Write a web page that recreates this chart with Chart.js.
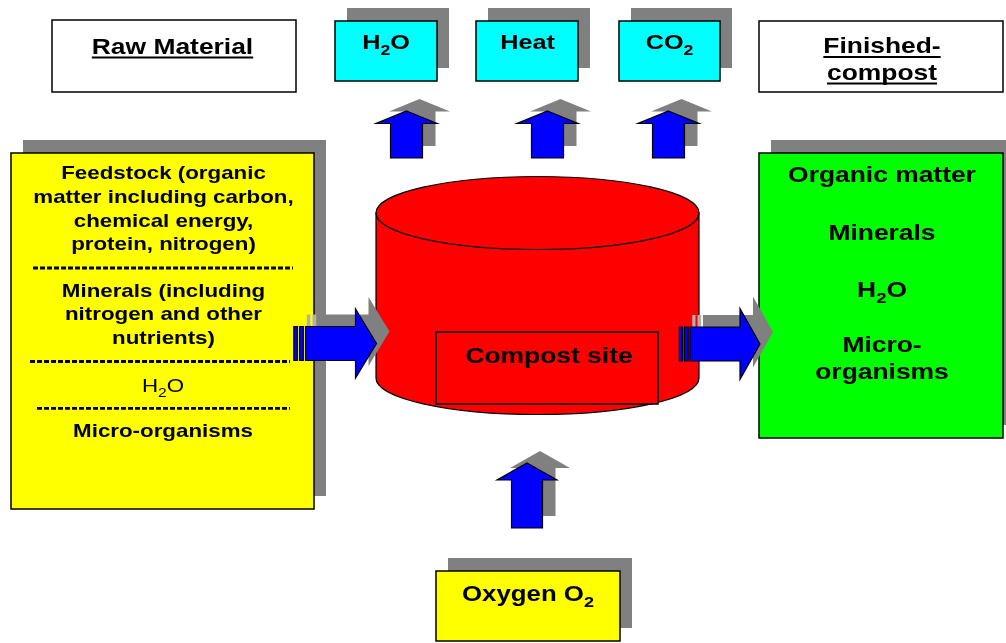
<!DOCTYPE html>
<html><head><meta charset="utf-8">
<script src="https://cdn.jsdelivr.net/npm/chart.js@4.4.1/dist/chart.umd.min.js"></script>
<style>html,body{margin:0;padding:0;background:#fff;overflow:hidden}canvas{display:block}</style>
</head><body>
<canvas id="c" width="1006" height="643"></canvas>
<script>
// ---- text content (the "data" of this diagram) ----
const headerLabels = ["Raw Material"];
const finishedLabels = ["Finished-", "compost"];
const outputLabels = ["H_2O", "Heat", "CO_2"];
const feedstockLines = ["Feedstock (organic", "matter including carbon,", "chemical energy,", "protein, nitrogen)"];
const mineralLines = ["Minerals (including", "nitrogen and other", "nutrients)"];
const waterLine = ["H_2O"];
const microLine = ["Micro-organisms"];
const productLines = ["Organic matter", "Minerals", "H_2O", "Micro-", "organisms"];
const siteLabel = ["Compost site"];
const oxygenLabel = ["Oxygen O_2"];

// ---- layout geometry (diagram coordinates, mapped through the chart scales) ----
const L = {
  rawBox: [52, 20, 296, 92],
  finBox: [759, 21, 1003, 92],
  outBoxes: [[335, 21, 437, 81], [476, 21, 578, 81], [619, 21, 720, 81]],
  outText: [[386, 49], [527.5, 49], [669.5, 49]],
  upArrows: [406.5, 547.5, 668.5],
  yellowBox: [11, 153, 314, 509],
  greenBox: [759, 153, 1003, 438],
  oxyBox: [436, 571, 620, 641],
  cyl: {cx: 537.5, rx: 161.5, top: 213, bottom: 378, ry: 36.5},
  siteBox: [436, 332, 658, 404]
};
const FONT = '"Liberation Sans", Arial, Helvetica, sans-serif';
const STRETCH = 1.2;

function parse(str){
  const out=[]; let cur=''; let i=0;
  while(i<str.length){
    if(str[i]==='_'){ if(cur) out.push({t:cur,sub:false}); cur=''; out.push({t:str[i+1],sub:true}); i+=2; }
    else { cur+=str[i]; i++; }
  }
  if(cur) out.push({t:cur,sub:false});
  return out;
}
function rich(ctx, str, cx, base, size, weight, underline){
  const parts = parse(str);
  const sub = size*0.7;
  let w=0;
  parts.forEach(p=>{ctx.font=`${weight} ${p.sub?sub:size}px ${FONT}`; p.w=ctx.measureText(p.t).width; w+=p.w;});
  ctx.save();
  ctx.translate(cx, base); ctx.scale(STRETCH,1);
  ctx.fillStyle='#000'; ctx.textAlign='left'; ctx.textBaseline='alphabetic';
  let x=-w/2;
  parts.forEach(p=>{ctx.font=`${weight} ${p.sub?sub:size}px ${FONT}`; ctx.fillText(p.t, x, p.sub?size*0.27:0); x+=p.w;});
  if(underline){ ctx.fillRect(-w/2, 3, w, 2); }
  ctx.restore();
}

const diagram = {
  id: 'diagram',
  afterDraw(chart){
    const ctx = chart.ctx;
    const sx = chart.scales.x, sy = chart.scales.y;
    const X = v => sx.getPixelForValue(v), Y = v => sy.getPixelForValue(v);
    const SH = [12, -13], ASH = [13, -12];
    const GRAY = '#808080';

    function rect(b, fill, stroke, off){
      const o = off || [0,0];
      const x1=X(b[0]+o[0]), y1=Y(b[1]+o[1]), x2=X(b[2]+o[0]), y2=Y(b[3]+o[1]);
      ctx.fillStyle=fill; ctx.fillRect(x1,y1,x2-x1,y2-y1);
      if(stroke){ ctx.strokeStyle=stroke; ctx.lineWidth=1.5; ctx.strokeRect(x1,y1,x2-x1,y2-y1); }
    }
    function shadowBox(b, fill){ rect(b, GRAY, null, SH); rect(b, fill, '#000'); }
    function poly(pts, fill, stroke, off){
      const o = off || [0,0];
      ctx.beginPath();
      pts.forEach((p,i)=>{ const x=X(p[0]+o[0]), y=Y(p[1]+o[1]); i?ctx.lineTo(x,y):ctx.moveTo(x,y); });
      ctx.closePath(); ctx.fillStyle=fill; ctx.fill();
      if(stroke){ ctx.strokeStyle=stroke; ctx.lineWidth=1.2; ctx.stroke(); }
    }
    function upPts(cx, tip, hh, hH, sh, bottom){
      return [[cx,tip],[cx+hh,tip+hH],[cx+sh,tip+hH],[cx+sh,bottom],[cx-sh,bottom],[cx-sh,tip+hH],[cx-hh,tip+hH]];
    }
    function upArrow(cx, tip, hh, hH, sh, bottom){
      const p = upPts(cx, tip, hh, hH, sh, bottom);
      poly(p, GRAY, null, ASH);
      poly(p, '#0000ff', '#000');
    }
    function rightArrow(tail, base, tip, cy, sh, hh, stripes){
      const p = [[tail,cy-sh],[base,cy-sh],[base,cy-hh],[tip,cy],[base,cy+hh],[base,cy+sh],[tail,cy+sh]];
      const sp = stripes.map(s=>[[s[0],cy-sh],[s[1],cy-sh],[s[1],cy+sh],[s[0],cy+sh]]);
      sp.forEach(s=>poly(s, '#b0b0b0', null, ASH));
      poly(p, GRAY, null, ASH);
      sp.forEach(s=>poly(s, '#0000ff', '#000'));
      poly(p, '#0000ff', '#000');
    }
    function dashes(x1, x2, y){
      ctx.save(); ctx.strokeStyle='#000'; ctx.lineWidth=2.8; ctx.setLineDash([5,2]);
      ctx.beginPath(); ctx.moveTo(X(x1),Y(y)); ctx.lineTo(X(x2),Y(y)); ctx.stroke(); ctx.restore();
    }

    // header boxes
    rect(L.rawBox, '#fff', '#000');
    rich(ctx, headerLabels[0], X(172.5), Y(53.5), 22, 'bold', true);
    rect(L.finBox, '#fff', '#000');
    rich(ctx, finishedLabels[0], X(882), Y(53), 22, 'bold', true);
    rich(ctx, finishedLabels[1], X(882), Y(79.5), 22, 'bold', true);

    // output boxes
    L.outBoxes.forEach((b,i)=>{
      shadowBox(b, '#00ffff');
      rich(ctx, outputLabels[i], X(L.outText[i][0]), Y(L.outText[i][1]), 21, 'bold', false);
    });
    L.upArrows.forEach(cx=>upArrow(cx, 111, 30.5, 12.5, 16, 158));

    // raw material box
    shadowBox(L.yellowBox, '#ffff00');
    const fb = [179.3, 202.9, 226.5, 250.1];
    feedstockLines.forEach((t,i)=>rich(ctx, t, X(163.5), Y(fb[i]), 18.6, 'bold', false));
    dashes(33, 293, 268);
    const mb = [296.7, 320.2, 343.7];
    mineralLines.forEach((t,i)=>rich(ctx, t, X(163.5), Y(mb[i]), 18.6, 'bold', false));
    dashes(30, 290, 361.5);
    rich(ctx, waterLine[0], X(163), Y(391.7), 18.6, 'normal', false);
    dashes(37, 290, 408.3);
    rich(ctx, microLine[0], X(163), Y(437.3), 18.6, 'bold', false);

    // cylinder
    const c = L.cyl;
    ctx.save();
    ctx.beginPath();
    ctx.moveTo(X(c.cx-c.rx), Y(c.top));
    ctx.lineTo(X(c.cx-c.rx), Y(c.bottom));
    ctx.ellipse(X(c.cx), Y(c.bottom), c.rx, c.ry, 0, Math.PI, 0, true);
    ctx.lineTo(X(c.cx+c.rx), Y(c.top));
    ctx.closePath();
    ctx.fillStyle='#ff0000'; ctx.fill(); ctx.strokeStyle='#000'; ctx.lineWidth=1.2; ctx.stroke();
    ctx.beginPath(); ctx.ellipse(X(c.cx), Y(c.top), c.rx, c.ry, 0, 0, Math.PI*2);
    ctx.fill(); ctx.stroke();
    ctx.restore();
    rect(L.siteBox, '#ff0000', '#000');
    rich(ctx, siteLabel[0], X(549), Y(363), 22, 'bold', false);

    // finished compost box
    shadowBox(L.greenBox, '#00ff00');
    const gb = [182.3, 240, 296.7, 351.7, 378.5];
    productLines.forEach((t,i)=>rich(ctx, t, X(882), Y(gb[i]), 22, 'bold', false));

    // flow arrows
    rightArrow(305.5, 355.5, 376.5, 343.5, 17, 34.5, [[293.8,297.3],[299.5,303.3]]);
    rightArrow(690, 740, 760, 344, 17, 35.5, [[679.3,682.5],[684.5,688.2]]);

    // oxygen
    upArrow(527, 463, 30, 17, 15.5, 528);
    shadowBox(L.oxyBox, '#ffff00');
    rich(ctx, oxygenLabel[0], X(528), Y(601), 21.5, 'bold', false);
  }
};

const chart = new Chart(document.getElementById('c'), {
  type: 'scatter',
  data: { datasets: [{ data: [], pointRadius: 0 }] },
  options: {
    responsive: false, animation: false, devicePixelRatio: 1,
    layout: { padding: 0 },
    plugins: { legend: { display: false }, tooltip: { enabled: false } },
    scales: {
      x: { type: 'linear', min: 0, max: 1006, display: false },
      y: { type: 'linear', min: 0, max: 643, reverse: true, display: false }
    }
  },
  plugins: [diagram]
});
</script>
</body></html>
